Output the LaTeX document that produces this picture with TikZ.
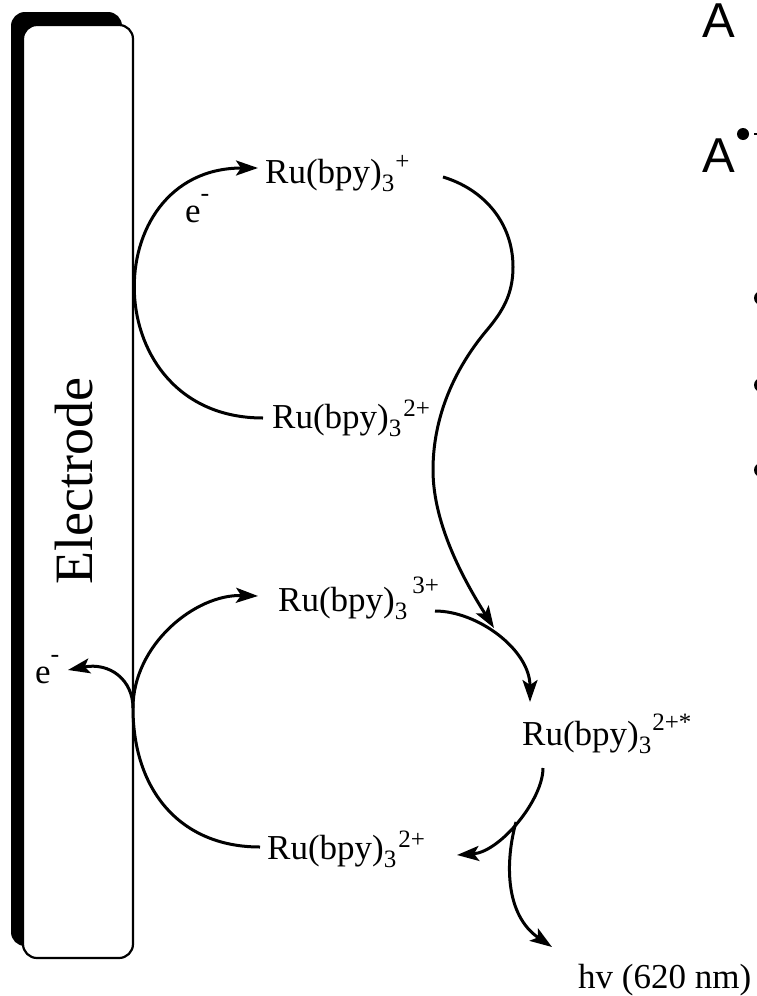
\documentclass[tikz,border=0pt]{standalone}
\usepackage{fontspec}
\setmainfont{Liberation Serif}
\setsansfont{Liberation Sans}
\usetikzlibrary{arrows.meta}
\newcommand{\RuSp}[3]{Ru(bpy)\raisebox{-8pt}{\fontsize{25}{25}\selectfont 3}\hspace{#1}\raisebox{#2}{\fontsize{25}{25}\selectfont #3}}
\newcommand{\elec}{e\raisebox{21pt}{\fontsize{26}{26}\selectfont -}}
\begin{document}
\begin{tikzpicture}[x=1pt,y=-1pt,
  lbl/.style={font=\fontsize{35}{35}\selectfont, inner sep=0pt, anchor=base west},
  conn/.style={line width=3pt},
  arr/.style={conn, -{Stealth[length=22pt,width=15pt,inset=5pt]}},
  slide/.style={font=\fontsize{49}{49}\sffamily, inner sep=0pt, anchor=base west},
]
\useasboundingbox (0,0) rectangle (757,996);
\clip (0,0) rectangle (757,996);
\fill[white] (0,0) rectangle (757,996);

% electrode
\fill[black, rounded corners=14pt] (11,12) rectangle (122,946);
\draw[line width=2.2pt, fill=white, rounded corners=14pt] (23,25) rectangle (133,958);
\node[rotate=90, anchor=base, inner sep=0pt, font=\fontsize{54}{54}\selectfont] (electrode) at (92,481) {Electrode};

% labels
\node[lbl] (r1) at (265,183) {\RuSp{1pt}{14pt}{+}};
\node[lbl] (r2a) at (272,428) {\RuSp{2pt}{12pt}{2+}};
\node[lbl] (r3) at (278,611) {\RuSp{5pt}{18pt}{3+}};
\node[lbl] (r2s) at (522,745) {\RuSp{1pt}{15pt}{2+*}};
\node[lbl] (r2b) at (267,859) {\RuSp{2pt}{12pt}{2+}};
\node[lbl] (hv) at (578,988) {hv (620 nm)};
\node[lbl] (e1) at (185,222) {\elec};
\node[lbl] (e2) at (35,683) {\elec};

\coordinate (tan) at (133,708);
\coordinate (meet) at (494,628);
\coordinate (branch) at (516,822);

% upper cycle
\draw[arr] ([shift={(-9,-10)}]r2a.base west) .. controls (95,418) and (95,168) .. ([shift={(-7,-15)}]r1.base west);
% S curve
\draw[arr] ([shift={(178,-6)}]r1.base west) .. controls (483,189) and (513,222) .. (513,267)
   .. controls (513,295) and (502,312) .. (487,330)
   .. controls (460,362) and (433,410) .. (433,470)
   .. controls (433,525) and (465,582) .. (meet);
% 3+ to excited
\draw[arr] ([shift={(157,0)}]r3.base west) .. controls (478,611) and (530,650) .. ([shift={(8,-43)}]r2s.base west);
% excited to ground
\draw[arr] ([shift={(21,23)}]r2s.base west) .. controls (543,800) and (500,852) .. ([shift={(190,-4)}]r2b.base west);
\draw[arr] (branch) .. controls (505,862) and (505,915) .. ([shift={(-26,-41)}]hv.base west);
% lower cycle
\draw[arr] ([shift={(-7,-12)}]r2b.base west) .. controls (180,847) and (133,790) .. (tan)
   .. controls (133,645) and (195,594) .. ([shift={(-20,-15)}]r3.base west);
\draw[arr] (tan) .. controls (133,680) and (110,662) .. ([shift={(33,-13)}]e2.base west);

% slide fragments on the right
\node[slide] (A1) at (702,37) {A};
\node[slide] (A2) at (702,172) {A};
\fill (743,134) circle[radius=6pt];
\draw[line width=1.6pt] (754,134) -- (757,134);
\fill (761,298) circle[radius=7pt];
\fill (761,385) circle[radius=7pt];
\fill (761,470) circle[radius=7pt];
\end{tikzpicture}
\end{document}
